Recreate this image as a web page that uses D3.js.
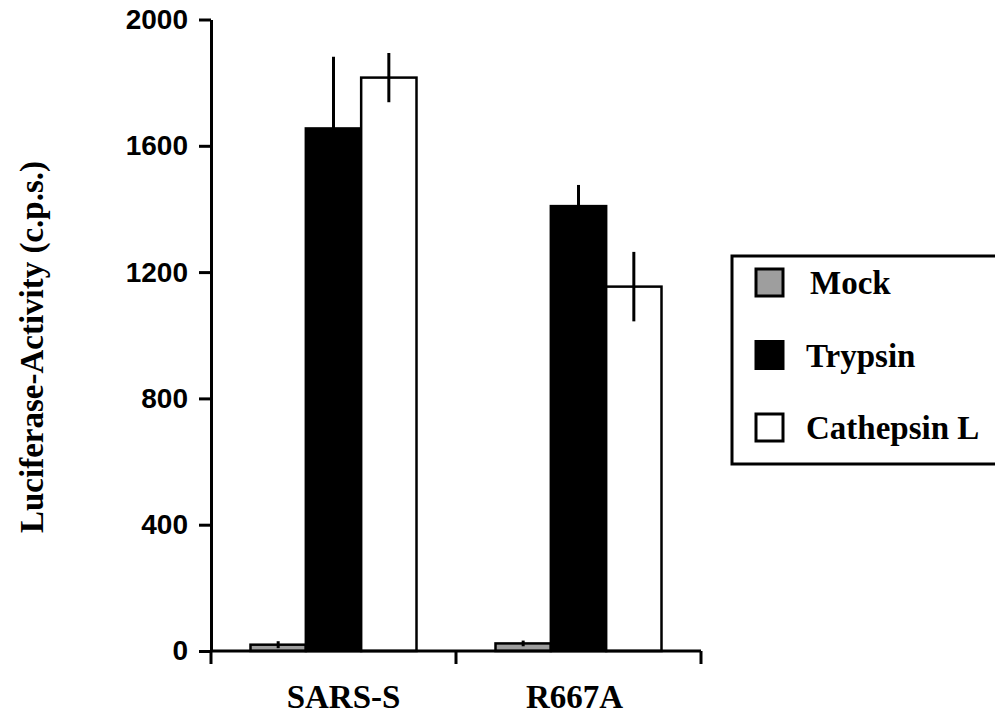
<!DOCTYPE html>
<html>
<head>
<meta charset="utf-8">
<script src="https://cdn.jsdelivr.net/npm/d3@7"></script>
<style>
  body { margin: 0; background: #fff; }
  svg { display: block; }
</style>
</head>
<body>
<div id="chart"></div>
<script>
// data
var categories = ["SARS-S", "R667A"];
var series = ["Mock", "Trypsin", "Cathepsin L"];
var mockValues = [20, 24];
var mockErrors = [11, 9];
var trypsinValues = [1655, 1409];
var trypsinErrors = [227, 67];
var cathepsinValues = [1816, 1154];
var cathepsinErrors = [78, 110];
var yTicks = [0, 400, 800, 1200, 1600, 2000];

var fills = { "Mock": "#9e9e9e", "Trypsin": "#000", "Cathepsin L": "#fff" };
// the category labels sit a little off the band centres in the original
var labelShift = { "SARS-S": 10, "R667A": -4 };

var rows = [];
categories.forEach(function (c, i) {
    rows.push({ cat: c, s: "Mock", v: mockValues[i], e: mockErrors[i] });
    rows.push({ cat: c, s: "Trypsin", v: trypsinValues[i], e: trypsinErrors[i] });
    rows.push({ cat: c, s: "Cathepsin L", v: cathepsinValues[i], e: cathepsinErrors[i] });
});

var W = 995, H = 715;
var svg = d3.select("#chart").append("svg")
    .attr("width", W)
    .attr("height", H);

var x = d3.scaleBand().domain(categories).range([211, 701]);
var xs = d3.scaleBand().domain(series).range([39.5, 205.5]);
var y = d3.scaleLinear().domain([0, 2000]).range([651, 19.5]);

// bars
svg.append("g").selectAll("rect")
    .data(rows)
    .enter()
    .append("rect")
    .attr("x", d => x(d.cat) + xs(d.s))
    .attr("y", d => y(d.v))
    .attr("width", xs.bandwidth())
    .attr("height", d => y(0) - y(d.v))
    .attr("fill", d => fills[d.s])
    .attr("stroke", "#000")
    .attr("stroke-width", 2.5);

// error bars (no caps)
svg.append("g").selectAll("line")
    .data(rows)
    .enter()
    .append("line")
    .attr("x1", d => x(d.cat) + xs(d.s) + xs.bandwidth() / 2)
    .attr("x2", d => x(d.cat) + xs(d.s) + xs.bandwidth() / 2)
    .attr("y1", d => y(d.v + d.e))
    .attr("y2", d => y(Math.max(0, d.v - d.e)))
    .attr("stroke", "#000")
    .attr("stroke-width", 3);

// y axis
var yAxis = svg.append("g")
    .attr("transform", "translate(211,0)")
    .call(d3.axisLeft(y).tickValues(yTicks).tickSize(12).tickSizeOuter(0).tickPadding(11).tickFormat(d3.format("d")));
yAxis.select(".domain").attr("stroke-width", 3);
yAxis.selectAll(".tick line").attr("stroke-width", 3);
yAxis.selectAll(".tick text")
    .attr("font-family", "'Liberation Sans', Arial, sans-serif")
    .attr("font-weight", "bold")
    .attr("font-size", 28)
    .attr("fill", "#000");

// x axis: line with ticks at the band edges
var xAxis = svg.append("g");
xAxis.append("line")
    .attr("x1", x.range()[0]).attr("x2", x.range()[1])
    .attr("y1", y(0)).attr("y2", y(0))
    .attr("stroke", "#000").attr("stroke-width", 3);
var edges = categories.map(c => x(c)).concat([x.range()[1]]);
xAxis.selectAll(".edge")
    .data(edges)
    .enter()
    .append("line")
    .attr("x1", d => d).attr("x2", d => d)
    .attr("y1", y(0)).attr("y2", y(0) + 13)
    .attr("stroke", "#000").attr("stroke-width", 3);
xAxis.selectAll("text")
    .data(categories)
    .enter()
    .append("text")
    .attr("x", d => x(d) + x.bandwidth() / 2 + labelShift[d])
    .attr("y", 708)
    .attr("text-anchor", "middle")
    .attr("font-family", "'Liberation Serif', 'Times New Roman', serif")
    .attr("font-weight", "bold")
    .attr("font-size", 33)
    .text(d => d);

// y title
svg.append("text")
    .attr("transform", "translate(43,347) rotate(-90)")
    .attr("text-anchor", "middle")
    .attr("font-family", "'Liberation Serif', 'Times New Roman', serif")
    .attr("font-weight", "bold")
    .attr("font-size", 33)
    .text("Luciferase-Activity (c.p.s.)");

// legend
var legend = svg.append("g");
legend.append("rect")
    .attr("x", 732).attr("y", 256)
    .attr("width", 300).attr("height", 208)
    .attr("fill", "#fff")
    .attr("stroke", "#000")
    .attr("stroke-width", 3);
var items = legend.selectAll(".item")
    .data(series)
    .enter()
    .append("g")
    .attr("transform", (d, i) => "translate(756," + (269 + i * 72.5) + ")");
items.append("rect")
    .attr("width", 27).attr("height", 27)
    .attr("fill", d => fills[d])
    .attr("stroke", "#000")
    .attr("stroke-width", 3);
items.append("text")
    .attr("x", (d, i) => i === 0 ? 54 : 50)
    .attr("y", 25)
    .attr("font-family", "'Liberation Serif', 'Times New Roman', serif")
    .attr("font-weight", "bold")
    .attr("font-size", 33)
    .text(d => d);
</script>
</body>
</html>
